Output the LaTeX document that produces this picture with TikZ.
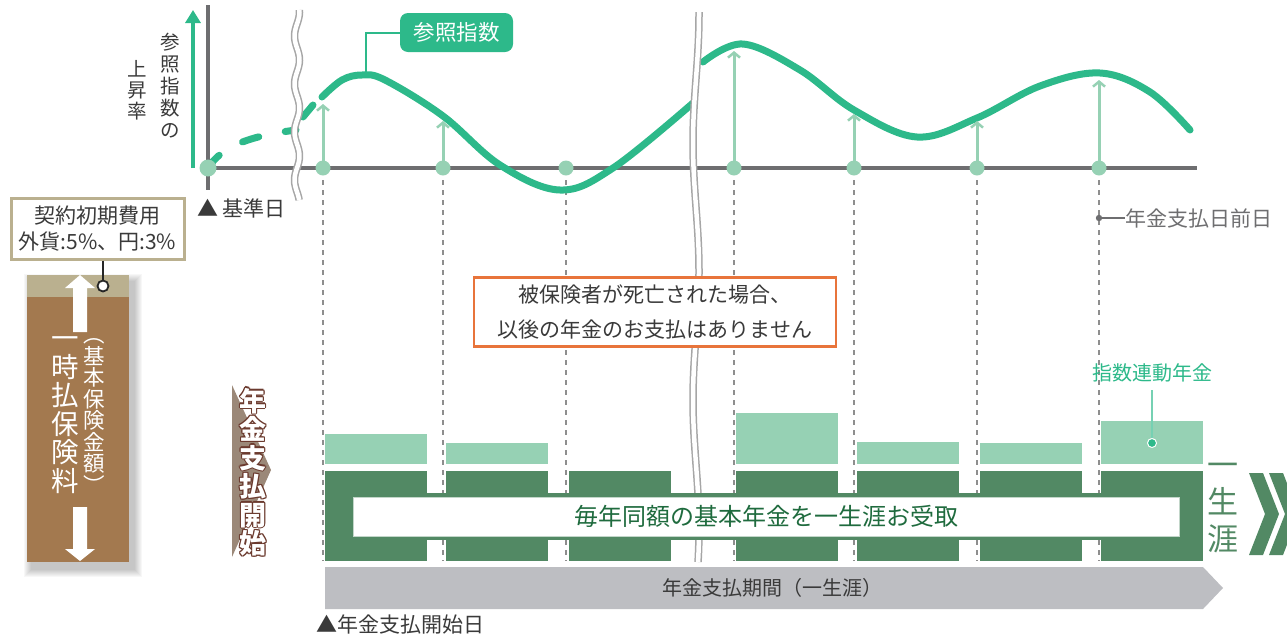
\documentclass[tikz,border=0pt]{standalone}
\usepackage{fontspec}
\setmainfont{Noto Sans CJK JP}
\usepackage{xcolor}
\usetikzlibrary{arrows.meta,positioning,calc}

\definecolor{idxgreen}{HTML}{2DB98A}
\definecolor{paleteal}{HTML}{96D1B4}
\definecolor{basegreen}{HTML}{528964}
\definecolor{deepgreen}{HTML}{1F6B3E}
\definecolor{premiumbrown}{HTML}{A3794F}
\definecolor{feetan}{HTML}{BAB08F}
\definecolor{axisgray}{HTML}{6E6E70}
\definecolor{guidegray}{HTML}{8E8E8E}
\definecolor{periodgray}{HTML}{BDBEC2}
\definecolor{noticeorange}{HTML}{E8743B}
\definecolor{startbrown}{HTML}{9B8878}
\definecolor{rimbrown}{HTML}{6B3A2E}
\definecolor{inkgray}{HTML}{3A3A3A}

\newcommand{\startcol}{年\\金\\支\\払\\開\\始}

\begin{document}
\begin{tikzpicture}[x=1pt, y=-1pt,
  lbl/.style={font=\fontsize{21}{26}\selectfont, text=inkgray, inner sep=0pt},
  vcol/.style={align=center, inner sep=0pt},
  dot/.style={circle, fill=paleteal, minimum size=15pt, inner sep=0pt},
  guide/.style={draw=guidegray, line width=1.8pt, dash pattern=on 5pt off 5pt},
  axis/.style={draw=axisgray, line width=3.5pt},
  riser/.style={draw=paleteal, line width=3pt, -{Straight Barb[length=5pt,width=12pt,line width=2.5pt]}},
  idxline/.style={draw=idxgreen, line width=7pt, line cap=round},
  breakouter/.style={draw=gray!70, line width=7.5pt},
  breakinner/.style={draw=white, line width=4.5pt},
  lightbar/.style={fill=paleteal},
  basebar/.style={fill=basegreen},
  startlbl/.style={vcol, font=\fontsize{27}{28.5}\selectfont\bfseries}]

\useasboundingbox (0,0) rectangle (1287,638);
\path[clip] (0,0) rectangle (1287,638);

% guides below the payout dates
\foreach \x [count=\i] in {323,443,566,734,854,977,1099} {
  \coordinate (pay\i) at (\x,168);
  \draw[guide] (\x,180) -- (\x,561);
}

% axes
\coordinate (origin) at (208,168);
\coordinate (ytop) at (208,5);
\coordinate (ybot) at (208,190);
\coordinate (xend) at (1197,168);
\draw[axis] (ytop) -- (ybot);
\draw[axis] (origin) -- (xend);
\coordinate (rate0) at (193,168);
\coordinate (rate1) at (193,10);
\draw[draw=idxgreen, line width=3.5pt, -{Triangle[length=13pt,width=15pt]}] (rate0) -- (rate1);
\node[vcol, font=\fontsize{19.5}{22}\selectfont, text=inkgray] (ratelbl) at (170,86) {参\\照\\指\\数\\の};
\node[vcol, font=\fontsize{19.5}{21}\selectfont, text=inkgray] (ratelbl2) at (137,90) {上\\昇\\率};

% reference index curve
\draw[idxline, line cap=round, dash pattern=on 17pt off 27pt]
  (origin) .. controls (222,146) and (250,136) .. (296,130);
\draw[idxline] (303,117) -- (313,105);
\draw[idxline] plot[smooth, tension=0.6] coordinates {(322,97) (342,80) (362,75) (385,80) (443,116) (500,165) (560,190) (613,168) (693,103)};
\draw[idxline] plot[smooth, tension=0.6] coordinates {(703,62) (743,44) (800,70) (854,110) (917,137) (977,118) (1040,86) (1100,73) (1150,92) (1190,130)};

% risers from payout dates
\foreach \i/\y in {1/104,2/121,4/51,5/114,6/121,7/80} {
  \path (pay\i) ++(0,\y-168) coordinate (tip\i);
  \draw[riser] (pay\i) -- (tip\i);
}

% breaks
\draw[breakouter] plot[domain=10:200, samples=80, smooth] ({297+2.5*sin(7.5*\x)},\x);
\draw[breakinner] plot[domain=10:200, samples=80, smooth] ({297+2.5*sin(7.5*\x)},\x);
\draw[breakouter] plot[domain=12:562, samples=80, smooth] ({696+3*sin(1.4*\x+70)},\x);
\draw[breakinner] plot[domain=12:562, samples=80, smooth] ({696+3*sin(1.4*\x+70)},\x);

% dots
\foreach \i in {1,...,7} \node[dot] (dot\i) at (pay\i) {};
\node[dot, minimum size=17pt] (basedot) at (origin) {};
\node[lbl, anchor=west] (basedate) at (197,208) {▲ 基準日};

% index callout
\node[fill=idxgreen, rounded corners=8pt, minimum width=113pt, minimum height=39pt,
  font=\fontsize{21.5}{24}\selectfont, text=white, inner sep=0pt] (idxtag) at (456.5,32.5) {参照指数};
\coordinate (idxpeak) at (366,72);
\draw[draw=idxgreen, line width=2pt] (idxtag.west) -| (idxpeak);

% day before payout
\coordinate (eve) at (1099,218);
\node[lbl, anchor=west, text=axisgray] (evetext) at (1125,218) {年金支払日前日};
\draw[draw=axisgray, line width=1.5pt] (eve) -- (evetext.west);
\fill[axisgray] (eve) circle (3.2pt);

% single premium column
\foreach \s in {1,...,8}
  \fill[black, opacity=0.03] ({32-\s},{282-\s}) rectangle ({134+\s},{569+\s});
\fill[premiumbrown] (27,275) rectangle (129,562);
\fill[feetan] (27,275) rectangle (129,297);
\fill[white] (80,275) -- (95,288) -- (87,288) -- (87,332) -- (73,332) -- (73,288) -- (65,288) -- cycle;
\fill[white] (80,561) -- (95,549) -- (87,549) -- (87,507) -- (73,507) -- (73,549) -- (65,549) -- cycle;
\node[vcol, text=white, font=\fontsize{27.5}{28.5}\selectfont] (premium) at (65,415) {一\\時\\払\\保\\険\\料};
\node[vcol, text=white, font=\fontsize{21.5}{21.5}\selectfont] (sumlbl) at (94,416) {︵\\基\\本\\保\\険\\金\\額\\︶};

% initial cost box
\node[draw=feetan, line width=3pt, fill=white, minimum width=173pt, minimum height=61pt,
  align=center, font=\fontsize{21}{26}\selectfont, text=inkgray, inner sep=0pt] (feebox) at (97.5,228.5) {契約初期費用\\外貨:5\%、円:3\%};
\coordinate (feetap) at (103,286);
\draw[draw=black!85, line width=1.8pt] (feebox.south -| feetap) -- (feetap);
\node[circle, draw=black!85, line width=1.8pt, fill=white, minimum size=11pt, inner sep=0pt] (tapring) at (feetap) {};

% payout start marker
\coordinate (startpt) at (253,472);
\fill[startbrown] (232,385) -- (271,470) -- (232,557) -- cycle;
\foreach \dx/\dy [count=\k] in {-1.3/0,1.3/0,0/-1.3,0/1.3,-0.9/-0.9,0.9/-0.9,-0.9/0.9,0.9/0.9}
  \node[startlbl, text=rimbrown] (startrim\k) at ($(startpt)+(\dx,\dy)$) {\startcol};
\node[startlbl, text=white] (startlabel) at (startpt) {\startcol};

% notice
\node[draw=noticeorange, line width=2.5pt, fill=white, minimum width=362pt, minimum height=69pt,
  align=center, font=\fontsize{21}{35}\selectfont, text=inkgray, inner sep=0pt] (notice) at (655,312)
  {被保険者が死亡された場合、\\以後の年金のお支払はありません};

% annuity bars
\foreach \l/\t in {325/434,446/443,736/413,857/442,980/443,1101/421}
  \fill[lightbar] (\l,\t) rectangle ({\l+102},464);
\foreach \l in {325,446,569,736,857,980,1101}
  \fill[basebar] (\l,471) rectangle ({\l+102},561);
\fill[basebar] (325,493) rectangle (1203,540);
\node[draw=basegreen!35, line width=1pt, fill=white, minimum width=826pt, minimum height=39pt, inner sep=0pt,
  font=\fontsize{24}{26}\selectfont, text=deepgreen] (lifeband) at (766,516.5) {毎年同額の基本年金を一生涯お受取};

% index-linked label
\node[font=\fontsize{20}{24}\selectfont, text=idxgreen, inner sep=0pt] (linked) at (1152,373) {指数連動年金};
\node[circle, fill=idxgreen, draw=white, line width=1pt, minimum size=9pt, inner sep=0pt] (linkdot) at (1152,443) {};
\draw[draw=idxgreen!65, line width=2pt] (linked.south) ++(0,8) coordinate (linktop) (linktop) -- (linkdot.north);

% lifetime mark
\node[vcol, text=basegreen, font=\fontsize{31}{37}\selectfont] (lifetime) at (1223,508) {一\\生\\涯};
\fill[basegreen] (1249,473) -- (1263,473) -- (1279,514) -- (1263,555) -- (1249,555) -- (1265,514) -- cycle;
\fill[basegreen] (1269,473) -- (1283,473) -- (1299,514) -- (1283,555) -- (1269,555) -- (1285,514) -- cycle;

% payout period
\fill[periodgray] (325,567) -- (1203,567) -- (1223,588) -- (1203,609) -- (325,609) -- cycle;
\node[lbl, font=\fontsize{20}{24}\selectfont] (period) at (772,588) {年金支払期間（一生涯）};
\node[lbl, anchor=west] (startdate) at (316,624) {▲年金支払開始日};
\end{tikzpicture}
\end{document}
